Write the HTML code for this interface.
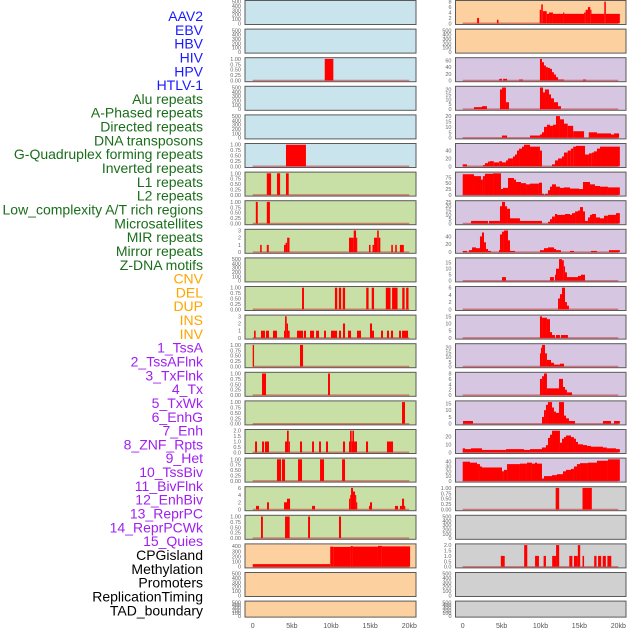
<!DOCTYPE html>
<html><head><meta charset="utf-8"><style>
body{margin:0;background:#fff;width:630px;height:630px;overflow:hidden}
svg{display:block;font-family:"Liberation Sans",sans-serif}
</style></head><body>
<svg id="chart" width="630" height="630" viewBox="0 0 630 630" xmlns="http://www.w3.org/2000/svg">
<g id="labels" font-size="14" text-anchor="end"></g>
<g id="panels"></g>
<g id="xaxis" font-size="7" fill="#555" text-anchor="middle"></g>
</svg>
<script>
const trackLabels=["AAV2","EBV","HBV","HIV","HPV","HTLV-1","Alu repeats","A-Phased repeats","Directed repeats","DNA transposons","G-Quadruplex forming repeats","Inverted repeats","L1 repeats","L2 repeats","Low_complexity A/T rich regions","Microsatellites","MIR repeats","Mirror repeats","Z-DNA motifs","CNV","DEL","DUP","INS","INV","1_TssA","2_TssAFlnk","3_TxFlnk","4_Tx","5_TxWk","6_EnhG","7_Enh","8_ZNF_Rpts","9_Het","10_TssBiv","11_BivFlnk","12_EnhBiv","13_ReprPC","14_ReprPCWk","15_Quies","CPGisland","Methylation","Promoters","ReplicationTiming","TAD_boundary"];
const labelGroups=[6,13,5,15,5];
const groupColors=["#1a1aff","#1a6e1a","#ffa500","#a020f0","#000000"];
const xTickLabels=["0","5kb","10kb","15kb","20kb"];
const xTickValues=[0,5,10,15,20];
const T500=["0","100","200","300","400","500"],T1=["0.00","0.25","0.50","0.75","1.00"];
const leftBg=["b","b","b","b","b","b","g","g","g","g","g","g","g","g","g","g","g","g","g","o","o","o"];
const rightBg=["o","o","p","p","p","p","p","p","p","p","p","p","p","p","p","p","p","y","y","y","y","y"];
const leftYmax=[500,500,1,500,500,1,1,1,3,500,1,3,1,1,1,2,1,6,1,420,500,500];
const rightYmax=[8,500,65,22,20,55,92,25,55,18,6,15,23,8,16,27,45,1,500,2,500,500];
const leftTicks=[T500,T500,T1,T500,T500,T1,T1,T1,["0","1","2","3"],T500,T1,["0","1","2","3"],T1,T1,T1,["0.0","0.5","1.0","1.5","2.0"],T1,["0","2","4","6"],T1,["0","100","200","300","400"],T500,T500];
const rightTicks=[["0","2","4","6","8"],T500,["0","20","40","60"],["0","5","10","15","20"],["0","5","10","15","20"],["0","20","40"],["0","25","50","75"],["0","5","10","15","20","25"],["0","20","40"],["0","5","10","15"],["0","2","4","6"],["0","5","10","15"],["0","5","10","15","20"],["0","2","4","6","8"],["0","5","10","15"],["0","10","20"],["0","10","20","30","40"],T1,T500,["0.0","0.5","1.0","1.5","2.0"],T500,T500];
const leftBars=[
[],[],[[9.2,10.3,1]],[],[],[[4.25,6.8,1]],
[[1.8,2.35,1],[3.1,3.5,1],[4.25,4.6,1]],
[[0.4,0.65,1],[1.8,2.2,1]],
[[0.95,1.15,1],[1.8,2.05,1],[4.0,4.2,1],[4.2,4.4,1.3],[4.4,4.7,2],[12.3,12.9,2],[12.9,13.2,3],[13.2,13.3,2],[14.85,15.05,1],[15.3,15.5,1],[15.5,15.9,2],[15.9,16.1,3],[16.1,16.3,2],[17.7,17.9,1],[18.2,18.4,1],[18.8,19.3,1]],
[],
[[6.3,6.55,1],[10.5,10.8,1],[11.0,11.3,1],[11.5,11.8,1],[14.5,14.8,1],[15.2,15.5,1],[17.0,17.6,1],[17.8,18.5,1],[19.1,19.4,1],[19.6,19.9,1]],
[[0.17,0.38,1],[1.06,1.57,1],[1.7,2.08,1],[2.59,3.1,1],[4.0,4.13,1],[4.13,4.34,3],[4.34,4.51,2],[4.51,4.72,1],[5.66,6.43,1],[6.55,6.81,1],[7.32,7.83,1],[8.09,8.47,1],[9.11,9.36,1],[10.0,10.77,1],[11.02,11.28,1],[11.53,11.79,2],[12.17,12.56,1],[13.32,13.83,1],[14.98,15.24,2],[15.24,15.49,1],[16.39,16.64,1],[17.15,17.41,1],[17.66,17.92,1],[18.69,18.94,1],[19.07,19.84,1]],
[[0,0.17,1],[6.04,6.43,1]],
[[1.19,1.7,1],[9.62,9.87,1]],
[[19.07,19.45,1]],
[[0.3,0.55,1],[1.19,1.45,1],[1.57,2.08,1],[4.13,4.38,1],[4.38,4.6,2],[4.6,4.72,1],[6.04,6.3,1],[7.58,7.83,1],[8.47,8.72,1],[9.36,9.62,1],[11.53,11.79,1],[12.3,12.43,1],[12.43,12.64,2],[12.64,12.73,1],[12.73,12.94,2],[12.94,13.32,1],[14.47,14.73,1],[17.15,17.92,1]],
[[3.1,3.62,1],[3.74,4.13,1],[5.79,6.3,1],[8.6,9.11,1],[11.41,11.79,1]],
[[0.42,0.81,1],[1.83,2.08,2],[4.0,4.38,2],[4.38,4.77,3],[7.58,7.96,1],[12.3,12.45,3],[12.45,12.56,4],[12.56,12.81,6],[12.81,13.07,5],[13.07,13.2,4],[13.2,13.32,2],[14.85,14.98,1],[14.98,15.24,2],[18.17,18.56,1],[18.8,19.07,1],[19.07,19.33,3],[19.33,19.45,1]],
[[1.06,1.3,1],[4.13,4.72,1],[7.07,7.32,1],[11.02,11.28,1]],
[[0,9.9,50],[9.9,10.3,390],[10.3,12.5,385],[12.5,12.8,400],[12.8,16.0,390],[16.0,16.5,405],[16.5,20.1,395]],
[],[]
];
const rightBars=[
[[1.85,2.1,2],[4.4,4.6,1.3],[9.9,10.1,5],[10.1,10.3,7],[10.3,10.8,4.5],[10.8,11.1,3.5],[11.1,11.6,4],[11.6,12.9,3.5],[12.9,13.0,4],[13.0,15.6,3.5],[15.6,15.8,4],[15.8,16.1,5],[16.1,16.4,6],[16.4,16.5,5],[16.5,18.2,3.5],[18.2,18.4,8],[18.4,20.2,3.5]],
[],
[[4.7,5.05,5],[5.2,5.7,5],[7.24,7.75,3],[9.93,10.19,65],[10.19,10.45,55],[10.45,10.7,45],[10.7,10.96,40],[10.96,11.22,38],[11.22,11.48,35],[11.48,11.73,25],[11.73,11.99,18],[11.99,12.25,10],[12.25,13.02,3],[15.46,15.85,3]],
[[1.45,2.48,2],[2.48,3.12,3],[4.79,5.05,20],[5.05,5.56,22],[5.56,5.95,7],[9.93,10.32,22],[10.32,10.58,17],[10.58,11.09,20],[11.09,11.35,15],[11.35,11.73,11],[11.73,12.25,7],[12.25,12.63,3]],
[[5.05,5.7,2],[8.65,9.93,2],[9.93,10.19,3],[10.19,10.45,5],[10.45,10.83,10],[10.83,11.22,12],[11.22,11.6,11],[11.6,11.99,12],[11.99,12.5,20],[12.5,13.02,17],[13.02,13.5,13],[13.5,14.2,11],[14.2,15.6,6],[16.2,17.26,5],[17.26,19.06,4],[19.06,19.45,3],[19.45,20.1,4]],
[[0,0.55,5],[2.6,2.86,3],[2.86,3.25,8],[3.25,3.5,12],[3.5,4.0,13],[4.0,4.7,10],[4.7,5.05,13],[5.05,5.56,10],[5.56,5.82,15],[5.82,6.46,20],[6.46,6.72,25],[6.72,6.98,30],[6.98,7.24,40],[7.24,7.62,45],[7.62,7.88,50],[7.88,8.65,55],[8.65,9.93,50],[9.93,10.19,40],[11.48,11.86,5],[11.86,12.25,15],[12.25,12.76,20],[12.76,13.02,25],[13.02,13.5,35],[13.5,13.9,40],[13.9,14.2,45],[14.2,14.56,50],[14.56,15.72,52],[15.72,16.23,30],[16.23,16.6,33],[16.6,16.87,35],[16.87,17.26,38],[17.26,17.65,45],[17.65,20.2,50]],
[[0,1.45,88],[1.45,2.35,80],[2.35,2.6,65],[2.6,2.86,80],[2.86,3.9,90],[3.9,4.92,92],[4.92,5.18,25],[5.18,5.82,30],[5.82,6.59,72],[6.59,6.85,65],[6.85,7.49,55],[7.49,8.14,50],[8.14,8.65,45],[8.65,9.8,48],[9.8,10.19,52],[10.19,10.45,5],[10.58,10.96,5],[10.96,11.22,20],[11.22,11.48,35],[11.48,11.99,45],[11.99,12.5,35],[12.5,13.02,30],[13.02,13.79,32],[13.79,14.95,27],[14.95,15.46,25],[15.46,16.36,55],[16.36,17.0,45],[17.0,17.65,38],[17.65,18.67,35],[18.67,20.2,32]],
[[1.07,3.25,3],[3.38,4.79,3],[4.79,5.05,20],[5.05,5.44,25],[5.44,5.7,20],[5.7,6.08,17],[6.08,7.36,6],[7.36,10.19,3],[10.96,11.22,2],[11.22,11.48,5],[11.48,11.86,8],[11.86,12.12,11],[12.12,13.15,10],[13.15,13.79,11],[13.79,14.05,10],[14.05,14.44,12],[14.44,14.82,14],[14.82,15.08,15],[15.08,15.46,19],[15.46,15.72,14],[15.72,16.1,3],[16.1,16.36,7],[16.36,16.62,10],[16.62,17.13,11],[17.13,17.65,7],[17.65,18.16,6],[18.16,18.67,9],[18.67,19.7,10],[19.7,20.2,12]],
[[0,0.55,3],[0.81,1.2,5],[1.2,1.71,12],[1.71,2.22,10],[2.22,2.48,40],[2.48,2.74,50],[2.74,2.99,25],[2.99,3.25,8],[3.25,3.64,3],[4.66,4.79,5],[4.79,5.05,45],[5.05,5.3,52],[5.3,5.82,55],[5.82,6.08,30],[6.08,6.72,3],[9.93,10.45,5],[10.45,10.96,10],[10.96,11.73,12],[11.73,11.99,8],[11.99,12.63,5],[13.79,14.3,3],[16.49,17.26,3],[18.8,20.2,5]],
[[5.05,5.56,3],[11.22,11.73,3],[11.86,11.99,5],[11.99,12.38,10],[12.38,12.76,18],[12.76,13.0,17],[13.0,13.15,12],[13.15,13.4,7],[13.4,14.82,3],[14.82,15.2,4],[15.2,15.72,5]],
[[12.25,12.5,3],[12.5,12.76,4.2],[12.76,13.15,6],[13.15,13.4,2],[13.4,13.66,1]],
[[9.93,10.2,15],[10.2,10.83,14],[10.83,11.22,13],[11.22,11.48,4],[11.48,11.86,2],[11.99,12.5,2],[12.63,13.53,2]],
[[9.93,10.06,14],[10.06,10.2,20],[10.2,10.58,23],[10.58,10.83,14],[10.83,11.35,7],[11.35,11.73,4],[11.73,12.5,2],[12.5,13.02,3]],
[[9.93,10.2,6],[10.2,10.45,7],[10.45,10.83,8],[10.83,12.38,2.5],[12.38,12.89,6],[12.89,13.15,3],[13.15,13.4,2],[13.4,14.05,1]],
[[0.04,1.32,2],[10.19,10.45,5],[10.45,10.7,10],[10.7,10.96,14],[10.96,11.48,16],[11.48,11.73,12],[11.73,11.99,9],[11.99,12.38,8],[12.38,13.02,16],[13.02,13.28,6],[13.28,13.66,4],[13.66,14.44,2],[18.03,19.06,2],[19.45,20.2,2]],
[[0,0.3,5],[0.3,1.07,4],[1.07,2.48,5],[2.48,5.56,3],[5.56,7.88,4],[7.88,8.65,3],[8.65,10.19,4],[10.19,10.7,6],[10.7,10.96,9],[10.96,11.22,18],[11.22,11.48,22],[11.48,12.5,27],[12.5,12.76,12],[12.76,13.02,17],[13.02,13.28,19],[13.28,13.92,21],[13.92,14.3,19],[14.3,14.56,17],[14.56,14.82,13],[14.82,15.46,10],[15.46,15.98,9],[15.98,16.49,8],[16.49,18.03,7],[18.03,18.54,6],[18.54,19.7,5],[19.7,20.2,4]],
[[0,0.94,40],[0.94,1.84,38],[1.84,2.22,35],[2.22,2.48,30],[2.48,5.05,28],[5.05,5.3,20],[5.3,5.7,23],[5.7,7.36,35],[7.36,8.26,36],[8.26,8.9,38],[8.9,9.29,36],[9.29,9.55,38],[9.55,10.19,36],[10.19,10.45,5],[10.45,11.48,10],[11.48,12.12,12],[12.12,12.89,14],[12.89,13.28,20],[13.28,13.92,23],[13.92,14.3,25],[14.3,14.69,30],[14.69,15.08,35],[15.08,16.1,37],[16.1,17.26,38],[17.26,18.67,42],[18.67,20.2,45]],
[[11.95,12.4,1],[15.4,16.6,1]],
[],
[[4.9,5.4,1],[7.9,8.3,2],[9.3,9.8,1],[10.4,10.7,1],[11.5,12.0,1],[12.0,12.4,2],[13.7,14.1,1],[14.3,14.8,1],[14.8,15.1,2],[15.4,15.6,1],[16.9,17.2,1],[17.4,17.8,1],[18.0,18.4,1],[18.6,19.1,1]],
[],[]
];

const NS="http://www.w3.org/2000/svg";
const bgColors={b:"#c9e4ec",g:"#c8e0a6",o:"#fdd0a0",p:"#d7c6e1",y:"#d0d0d0"};
function mk(tag,attrs,parent){const e=document.createElementNS(NS,tag);for(const k in attrs)e.setAttribute(k,attrs[k]);parent.appendChild(e);return e;}

// labels
const lg=document.getElementById("labels");
let gi=0,cnt=0;
trackLabels.forEach((t,i)=>{
  while(cnt>=labelGroups[gi]){gi++;cnt=0;}
  cnt++;
  const e=mk("text",{x:203,y:16+i*13.82+5,fill:groupColors[gi]},lg);
  
  
  e.textContent=t;
});

const cols=[{x0:245,x1:416,zero:252.7,scale:7.83,bg:leftBg,ym:leftYmax,ticks:leftTicks,bars:leftBars,side:"left"},
            {x0:455.5,x1:626,zero:462.7,scale:7.78,bg:rightBg,ym:rightYmax,ticks:rightTicks,bars:rightBars,side:"right"}];
const pg=document.getElementById("panels");
cols.forEach(c=>{
  const xs=kb=>c.zero+kb*c.scale;
  for(let i=0;i<22;i++){
    const top=0.5+i*28.6, h=(i===21)?16:24, bot=top+h;
    const g=mk("g",{},pg);
    
    
    const r=mk("rect",{x:c.x0,y:top,width:c.x1-c.x0,height:h,fill:bgColors[c.bg[i]],stroke:"#5a5a5a","stroke-width":1},g);
    
    
    const ym=c.ym[i];
    const ys=v=>bot-1.2-v/ym*(h-2.4);
    c.ticks[i].forEach(s=>{
      const v=parseFloat(s);
      const t=mk("text",{x:c.x0-4,y:ys(v)+2,"font-size":5.5,fill:"#666","text-anchor":"end"},g);
      
      
      t.textContent=s;
    });
    if(c.bars[i].length){
      const bl=mk("line",{x1:xs(0),x2:xs(20),y1:bot-1.2,y2:bot-1.2,stroke:"rgba(200,50,50,0.55)","stroke-width":1.5},g);
      
      
    }
    c.bars[i].forEach(b=>{
      const x=xs(b[0]),w=Math.max(xs(b[1])-x,1.2),y=ys(b[2]);
      const rb=mk("rect",{x:x,y:y,width:w,height:(bot-1.2)-y,fill:"#ff0000"},g);
      
      
    });
  }
  const xa=document.getElementById("xaxis");
  xTickValues.forEach((v,k)=>{
    const t=mk("text",{x:xs(v),y:628},xa);
    
    
    t.textContent=xTickLabels[k];
  });
});
</script>
</body></html>
